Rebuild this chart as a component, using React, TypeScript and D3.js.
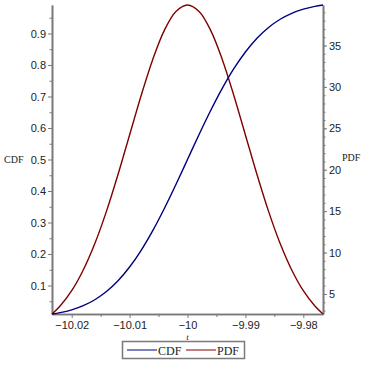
import * as d3 from 'd3';
import { useCallback } from 'react';

// values (t, CDF, PDF)
const tValues = [
  -10.0234, -10.022, -10.02, -10.018, -10.016, -10.014, -10.012, -10.01, -10.008, -10.006, -10.004,
  -10.002, -10.0, -9.998, -9.996, -9.994, -9.992, -9.99, -9.988, -9.986, -9.984, -9.982, -9.98,
  -9.978, -9.9766,
];
const cdfValues = [
  0.0096, 0.0139, 0.0228, 0.0359, 0.0548, 0.0808, 0.1151, 0.1587, 0.2119, 0.2743, 0.3446, 0.4207,
  0.5, 0.5793, 0.6554, 0.7257, 0.7881, 0.8413, 0.8849, 0.9192, 0.9452, 0.9641, 0.9772, 0.9861,
  0.9904,
];
const pdfValues = [
  2.58, 3.55, 5.4, 7.9, 11.09, 14.97, 19.42, 24.2, 28.97, 33.32, 36.83, 39.1, 39.89, 39.1, 36.83,
  33.32, 28.97, 24.2, 19.42, 14.97, 11.09, 7.9, 5.4, 3.55, 2.58,
];
const xTicks = [-10.02, -10.01, -10.0, -9.99, -9.98];
const xMinorTicks = [-10.015, -10.005, -9.995, -9.985];
const cdfTicks = [0.1, 0.2, 0.3, 0.4, 0.5, 0.6, 0.7, 0.8, 0.9];
const cdfMinorTicks = [0.05, 0.15, 0.25, 0.35, 0.45, 0.55, 0.65, 0.75, 0.85, 0.95];
const pdfTicks = [5, 10, 15, 20, 25, 30, 35];
const legendItems = [
  { name: 'CDF', color: '#000080' },
  { name: 'PDF', color: '#800000' },
];

const W = 366;
const H = 366;
const left = 52;
const right = 323;
const top = 5;
const bottom = 314;
const axisColor = '#7a7a7a';
const labelFont = '"Liberation Sans", Arial, sans-serif';
const serifFont = '"Liberation Serif", "DejaVu Serif", serif';

const fmt = (v: number) => {
  const s = d3.format('')(+v.toFixed(3));
  return s.startsWith('-') ? '\u2212 ' + s.slice(1) : s;
};

const App = () => {
  const draw = useCallback((ref: SVGSVGElement | null) => {
    if (!ref) return;
    const svg = d3.select(ref);
    svg.selectAll('*').remove();

    const x = d3.scaleLinear().domain([tValues[0], tValues[tValues.length - 1]]).range([left, right]);
    const yCdf = d3.scaleLinear().domain([cdfValues[0], cdfValues[cdfValues.length - 1]]).range([bottom, top]);
    const yPdf = d3.scaleLinear().domain([d3.min(pdfValues)!, d3.max(pdfValues)!]).range([bottom, top]);

    const styleAxis = (g: d3.Selection<SVGGElement, unknown, null, undefined>) => {
      g.select('.domain').attr('stroke', axisColor).attr('stroke-width', 1.6);
      g.selectAll('line').attr('stroke', axisColor).attr('stroke-width', 1);
      g.selectAll('text').attr('fill', '#222').attr('font-family', labelFont).attr('font-size', 11);
    };

    // minor ticks
    svg.append('g').attr('transform', `translate(0,${bottom})`)
      .call(d3.axisBottom(x).tickValues(xMinorTicks).tickSize(3).tickSizeOuter(0).tickFormat(() => ''))
      .call(styleAxis);
    svg.append('g').attr('transform', `translate(${left},0)`)
      .call(d3.axisLeft(yCdf).tickValues(cdfMinorTicks).tickSize(2.5).tickSizeOuter(0).tickFormat(() => ''))
      .call(styleAxis);
    svg.append('g').attr('transform', `translate(${right},0)`)
      .call(d3.axisRight(yPdf).tickValues(d3.range(3, 40)).tickSize(2.5).tickSizeOuter(0).tickFormat(() => ''))
      .call(styleAxis);

    // major ticks
    svg.append('g').attr('transform', `translate(0,${bottom})`)
      .call(d3.axisBottom(x).tickValues(xTicks).tickSize(4).tickSizeOuter(0).tickPadding(3).tickFormat((d) => fmt(+d)))
      .call(styleAxis);
    svg.append('g').attr('transform', `translate(${left},0)`)
      .call(d3.axisLeft(yCdf).tickValues(cdfTicks).tickSize(4).tickSizeOuter(0).tickPadding(2).tickFormat(d3.format('.1f')))
      .call(styleAxis);
    svg.append('g').attr('transform', `translate(${right},0)`)
      .call(d3.axisRight(yPdf).tickValues(pdfTicks).tickSize(4).tickSizeOuter(0).tickPadding(2).tickFormat(d3.format('d')))
      .call(styleAxis);

    // curves
    const idx = d3.range(tValues.length);
    const cdfLine = d3.line<number>().x((i) => x(tValues[i])).y((i) => yCdf(cdfValues[i])).curve(d3.curveCatmullRom);
    const pdfLine = d3.line<number>().x((i) => x(tValues[i])).y((i) => yPdf(pdfValues[i])).curve(d3.curveCatmullRom);
    svg.append('path').attr('d', pdfLine(idx)).attr('fill', 'none').attr('stroke', '#800000').attr('stroke-width', 1.4);
    svg.append('path').attr('d', cdfLine(idx)).attr('fill', 'none').attr('stroke', '#000080').attr('stroke-width', 1.4);

    // axis titles
    svg.append('text').attr('x', 4).attr('y', 163).attr('font-family', serifFont).attr('font-size', 10)
      .attr('fill', '#222').text('CDF');
    svg.append('text').attr('x', 342).attr('y', 161).attr('font-family', serifFont).attr('font-size', 10)
      .attr('fill', '#222').text('PDF');
    svg.append('text').attr('x', x(-10.0)).attr('y', 340).attr('text-anchor', 'middle').attr('font-family', serifFont)
      .attr('font-style', 'italic').attr('font-size', 9).attr('fill', '#222').text('t');

    // legend
    const lg = svg.append('g');
    lg.append('rect').attr('x', 122.5).attr('y', 341.5).attr('width', 122).attr('height', 17)
      .attr('fill', 'white').attr('stroke', axisColor).attr('stroke-width', 1.5);
    legendItems.forEach((item, i) => {
      const x0 = 127 + i * 59;
      lg.append('line').attr('x1', x0).attr('x2', x0 + 30).attr('y1', 350).attr('y2', 350)
        .attr('stroke', item.color).attr('stroke-width', 1);
      lg.append('text').attr('x', x0 + 31).attr('y', 354.5).attr('font-family', serifFont).attr('font-size', 12)
        .attr('fill', '#222').text(item.name);
    });
  }, []);

  return (
    <svg
      ref={draw}
      width={W}
      height={H}
      style={{ position: 'absolute', left: 0, top: 0, background: 'white' }}
    />
  );
};

export default App;
